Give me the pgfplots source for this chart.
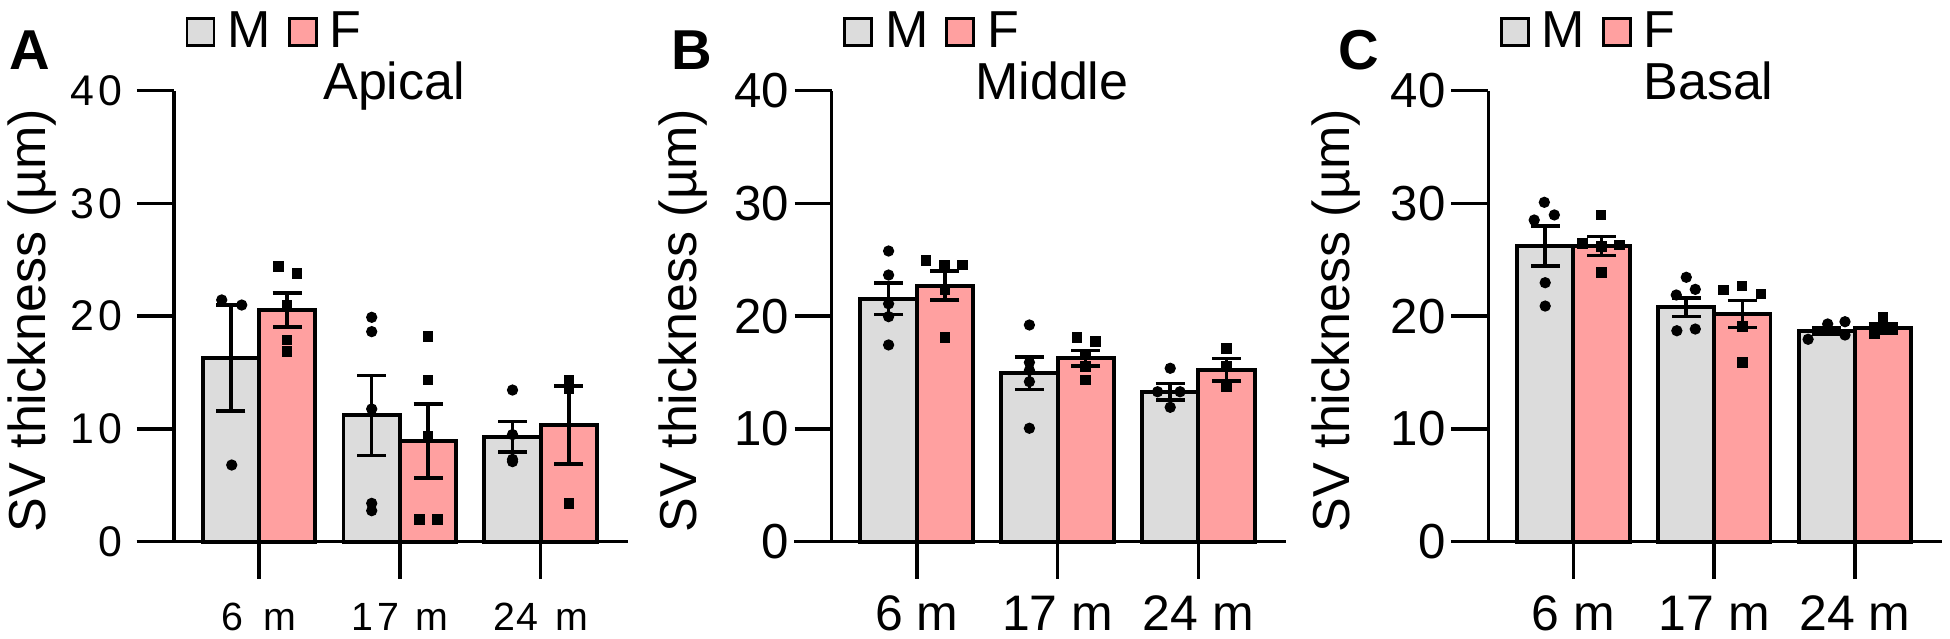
\documentclass[border=0pt]{standalone}
\usepackage{fontspec}
\setmainfont{Liberation Sans}
\usepackage{pgfplots}
\pgfplotsset{compat=1.18}
\definecolor{mgrey}{RGB}{220,220,220}
\definecolor{fpink}{RGB}{255,160,160}

\pgfplotsset{
  svpanel/.style={
    scale only axis, width=4.54cm, height=4.51cm,
    xmin=-0.604, xmax=2.62, ymin=0, ymax=40,
    axis x line*=bottom, axis y line*=left,
    axis line style={line width=1pt},
    xtick={0,1,2}, ytick={0,10,20,30,40},
    tick align=outside, major tick length=3.7mm,
    every tick/.style={black, line width=1pt},
    clip=false,
    every axis title/.style={at={(axis description cs:0.485,1)}, anchor=base, yshift=-0.93mm,
      font=\fontsize{14.8}{18}\selectfont, inner sep=0pt},
    legend style={at={(axis description cs:0.024,1.13)}, anchor=west,
      draw=none, fill=none, inner sep=0pt, legend columns=2,
      font=\fontsize{14.8}{18}\selectfont,
      nodes={inner xsep=1.2mm, inner ysep=0pt},
      /tikz/every even column/.append style={column sep=0.5mm}},
    legend image code/.code={\draw[#1, line width=0.8pt] (0cm,-0.135cm) rectangle (0.27cm,0.135cm);},
    ylabel={SV thickness (µm)},
    ylabel style={font=\fontsize{14.8}{18}\selectfont, anchor=base},
    yticklabel style={font=\fontsize{14}{17}\selectfont, inner xsep=0.5mm},
    xticklabel style={font=\fontsize{14.2}{17}\selectfont, anchor=base, yshift=-5.17mm},
    xticklabels={6 m,17 m,24 m},
    yticklabels={0,10,20,30,40},
  },
  mbar/.style={ybar, bar width=0.4, bar shift=0pt, fill=mgrey, draw=black, line width=1.1pt,
    error bars/y dir=both, error bars/y explicit,
    error bars/error bar style={line width=1pt, black},
    error bars/error mark options={rotate=90, line width=1pt, black, mark size=1.45mm}},
  fbar/.style={mbar, fill=fpink},
  mpts/.style={only marks, mark=*, mark size=1.4pt, black, forget plot},
  fpts/.style={only marks, mark=square*, mark size=1.3pt, black, forget plot},
}

\begin{document}
\begin{tikzpicture}
\useasboundingbox (0,0) rectangle (19.5,-6.39);

% ---------------- A: apical
\begin{axis}[svpanel, at={(1.74cm,-5.417cm)}, anchor=south west,
  title={Apical},
  ylabel style={at={(axis description cs:-0.284,0.49)}},
  yticklabel style={font=\fontsize{12.2}{15}\selectfont, xshift=-0.9mm},
  xticklabel style={font=\fontsize{11.2}{14}\selectfont},
  yticklabels={0,1\hspace{0.1em}0,2\hspace{0.1em}0,3\hspace{0.1em}0,4\hspace{0.1em}0},
  xticklabels={6\hspace{0.5em}m,1\hspace{0.1em}7\hspace{0.42em}m,2\hspace{0.05em}4\hspace{0.42em}m}]
\addplot[mbar] coordinates {(-0.2,16.3) +- (0,4.7) (0.8,11.2) +- (0,3.55) (1.8,9.3) +- (0,1.36)};
\addplot[fbar] coordinates {(0.2,20.55) +- (0,1.52) (1.2,8.93) +- (0,3.3) (2.2,10.35) +- (0,3.48)};
\addplot[mpts] coordinates {(-0.265,21.44) (-0.123,20.99) (-0.194,6.80)
  (0.8,19.9) (0.8,18.63) (0.8,11.77) (0.8,3.40) (0.8,2.75)
  (1.8,13.45) (1.8,9.5) (1.8,7.3) (1.8,7.1)};
\addplot[fpts] coordinates {(0.137,24.39) (0.268,23.80) (0.2,20.99) (0.2,17.89) (0.2,16.85)
  (1.2,18.18) (1.2,14.34) (1.2,9.31) (1.139,1.98) (1.269,1.98)
  (2.2,14.34) (2.2,13.6) (2.2,3.4)};
\draw[line width=1pt] (axis cs:-0.869,0) -- (axis cs:-0.604,0);
\legend{M,F}
\end{axis}

% ---------------- B: middle
\begin{axis}[svpanel, at={(8.317cm,-5.417cm)}, anchor=south west,
  title={Middle},
  ylabel style={at={(axis description cs:-0.297,0.49)}}]
\addplot[mbar] coordinates {(-0.2,21.53) +- (0,1.4) (0.8,14.93) +- (0,1.45) (1.8,13.3) +- (0,0.74)};
\addplot[fbar] coordinates {(0.2,22.71) +- (0,1.29) (1.2,16.27) +- (0,0.7) (2.2,15.23) +- (0,1.0)};
\addplot[mpts] coordinates {(-0.2,25.78) (-0.2,23.65) (-0.2,21.1) (-0.2,19.96) (-0.2,17.45)
  (0.8,19.22) (0.8,15.9) (0.8,15.2) (0.8,14.19) (0.8,10.06)
  (1.8,15.38) (1.71,13.3) (1.87,13.3) (1.8,11.92)};
\addplot[fpts] coordinates {(0.066,24.92) (0.197,24.54) (0.325,24.54) (0.2,22.32) (0.2,18.13)
  (1.138,18.13) (1.269,17.74) (1.2,16.56) (1.2,15.52) (1.2,14.34)
  (2.2,17.15) (2.2,15.52) (2.2,13.75)};
\draw[line width=1pt] (axis cs:-0.869,0) -- (axis cs:-0.604,0);
\legend{M,F}
\end{axis}

% ---------------- C: basal
\begin{axis}[svpanel, at={(14.883cm,-5.417cm)}, anchor=south west,
  title={Basal},
  ylabel style={at={(axis description cs:-0.305,0.49)}}]
\addplot[mbar] coordinates {(-0.2,26.23) +- (0,1.78) (0.8,20.79) +- (0,0.81) (1.8,18.69) +- (0,0.3)};
\addplot[fbar] coordinates {(0.2,26.23) +- (0,0.84) (1.2,20.2) +- (0,1.19) (2.2,18.93) +- (0,0.4)};
\addplot[mpts] coordinates {(-0.206,30.10) (-0.278,28.53) (-0.135,28.98) (-0.2,22.97) (-0.2,20.90)
  (0.802,23.45) (0.731,21.88) (0.866,22.38) (0.735,18.71) (0.866,18.86)
  (1.667,17.95) (1.806,19.31) (1.929,19.51) (1.929,18.33)};
\addplot[fpts] coordinates {(0.197,28.98) (0.066,26.47) (0.2,26.17) (0.327,26.32) (0.2,23.86)
  (1.068,22.32) (1.198,22.68) (1.331,21.97) (1.2,19.07) (1.2,15.88)
  (2.2,19.9) (2.138,18.48) (2.265,18.93) (2.2,19.1)};
\draw[line width=1pt] (axis cs:-0.869,0) -- (axis cs:-0.604,0);
\legend{M,F}
\end{axis}

% panel letters
\node[anchor=base west, inner sep=0pt, font=\fontsize{16}{19}\selectfont\bfseries] at (0.09,-0.70) {A};
\node[anchor=base west, inner sep=0pt, font=\fontsize{16}{19}\selectfont\bfseries] at (6.71,-0.70) {B};
\node[anchor=base west, inner sep=0pt, font=\fontsize{16}{19}\selectfont\bfseries] at (13.38,-0.70) {C};
\end{tikzpicture}
\end{document}
